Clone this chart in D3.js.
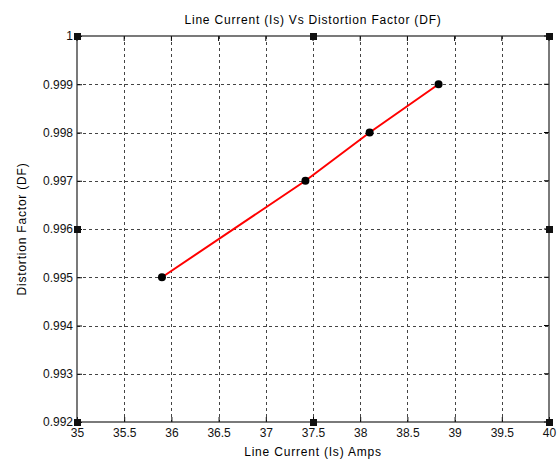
<!DOCTYPE html>
<html>
<head>
<meta charset="utf-8">
<script src="https://cdn.jsdelivr.net/npm/d3@7"></script>
<style>
    body { margin: 0; background: #fff; }
    text { font-family: "Liberation Sans", Arial, sans-serif; font-size: 12px; fill: #000; }
    .lbl { letter-spacing: 0.8px; }
</style>
</head>
<body>
<svg id="chart"></svg>
<script>
const lineCurrent = [35.9, 37.42, 38.1, 38.83]
const distortion = [0.995, 0.997, 0.998, 0.999]
const xTicks = [35, 35.5, 36, 36.5, 37, 37.5, 38, 38.5, 39, 39.5, 40]
const yTicks = [0.992, 0.993, 0.994, 0.995, 0.996, 0.997, 0.998, 0.999, 1]

const chart = { width: 558, height: 461 }
const padding = { left: 77, right: 9, top: 36, bottom: 39 }

const svg = d3.select("#chart")
    .attr("width", chart.width)
    .attr("height", chart.height)

const x = d3.scaleLinear()
    .domain([35, 40])
    .range([padding.left, chart.width - padding.right])

const y = d3.scaleLinear()
    .domain([0.992, 1])
    .range([chart.height - padding.bottom, padding.top])

const x0 = x.range()[0], x1 = x.range()[1]
const y0 = y.range()[0], y1 = y.range()[1]

// grid
svg.append("g")
    .selectAll("line")
    .data(xTicks.slice(1, -1))
    .enter()
    .append("line")
    .attr("x1", d => Math.round(x(d)) + 0.5)
    .attr("x2", d => Math.round(x(d)) + 0.5)
    .attr("y1", y1)
    .attr("y2", y0)
    .attr("stroke", "#444")
    .attr("stroke-dasharray", "3 3")

svg.append("g")
    .selectAll("line")
    .data(yTicks.slice(1, -1))
    .enter()
    .append("line")
    .attr("y1", d => Math.round(y(d)) + 0.5)
    .attr("y2", d => Math.round(y(d)) + 0.5)
    .attr("x1", x0)
    .attr("x2", x1)
    .attr("stroke", "#444")
    .attr("stroke-dasharray", "3 3")

// axes (ticks inside)
const xAxis = d3.axisBottom(x).tickValues(xTicks).tickSize(-5).tickPadding(9).tickFormat(d3.format("~g"))
const yAxis = d3.axisLeft(y).tickValues(yTicks).tickSize(-5).tickPadding(4).tickFormat(d3.format("~g"))

const gx = svg.append("g")
    .attr("transform", "translate(0," + y0 + ")")
    .call(xAxis)
gx.selectAll("text").attr("dy", "0.5em")

const gy = svg.append("g")
    .attr("transform", "translate(" + x0 + ",0)")
    .call(yAxis)

svg.selectAll(".domain").remove()
svg.selectAll(".tick text")
    .style("font-family", "Liberation Sans, Arial, sans-serif")
    .style("font-size", "12px")
    .style("fill", "#111")

// top / right ticks
svg.append("g")
    .selectAll("line")
    .data(xTicks)
    .enter()
    .append("line")
    .attr("x1", d => x(d))
    .attr("x2", d => x(d))
    .attr("y1", y1)
    .attr("y2", y1 + 5)
    .attr("stroke", "#000")

svg.append("g")
    .selectAll("line")
    .data(yTicks)
    .enter()
    .append("line")
    .attr("y1", d => y(d))
    .attr("y2", d => y(d))
    .attr("x1", x1)
    .attr("x2", x1 - 5)
    .attr("stroke", "#000")

// box
svg.append("rect")
    .attr("x", x0)
    .attr("y", y1)
    .attr("width", x1 - x0)
    .attr("height", y0 - y1)
    .attr("fill", "none")
    .attr("stroke", "#222")
    .attr("stroke-width", 1.2)

// data line
const pts = lineCurrent.map((d, i) => ({ x: d, y: distortion[i] }))

svg.append("path")
    .datum(pts)
    .attr("fill", "none")
    .attr("stroke", "red")
    .attr("stroke-width", 2)
    .attr("d", d3.line()
        .x(d => x(d.x))
        .y(d => y(d.y)))

svg.append("g")
    .selectAll("circle")
    .data(pts)
    .enter()
    .append("circle")
    .attr("cx", d => x(d.x))
    .attr("cy", d => y(d.y))
    .attr("r", 4)
    .attr("fill", "#000")

// selection handles
const handles = [[0, 0], [0.5, 0], [1, 0], [0, 0.5], [1, 0.5], [0, 1], [0.5, 1], [1, 1]]
svg.append("g")
    .selectAll("rect")
    .data(handles)
    .enter()
    .append("rect")
    .attr("x", d => x0 + d[0] * (x1 - x0) - 3)
    .attr("y", d => y1 + d[1] * (y0 - y1) - 3)
    .attr("width", 7)
    .attr("height", 7)
    .attr("fill", "#111")

// labels
svg.append("text")
    .attr("class", "lbl")
    .attr("x", (x0 + x1) / 2)
    .attr("y", 24)
    .attr("text-anchor", "middle")
    .text("Line Current (Is) Vs Distortion Factor (DF)")

svg.append("text")
    .attr("class", "lbl")
    .attr("x", (x0 + x1) / 2)
    .attr("y", 456)
    .attr("text-anchor", "middle")
    .text("Line Current (Is) Amps")

svg.append("text")
    .attr("class", "lbl")
    .attr("transform", "translate(26," + (y0 + y1) / 2 + ") rotate(-90)")
    .attr("text-anchor", "middle")
    .text("Distortion Factor (DF)")
</script>
</body>
</html>
